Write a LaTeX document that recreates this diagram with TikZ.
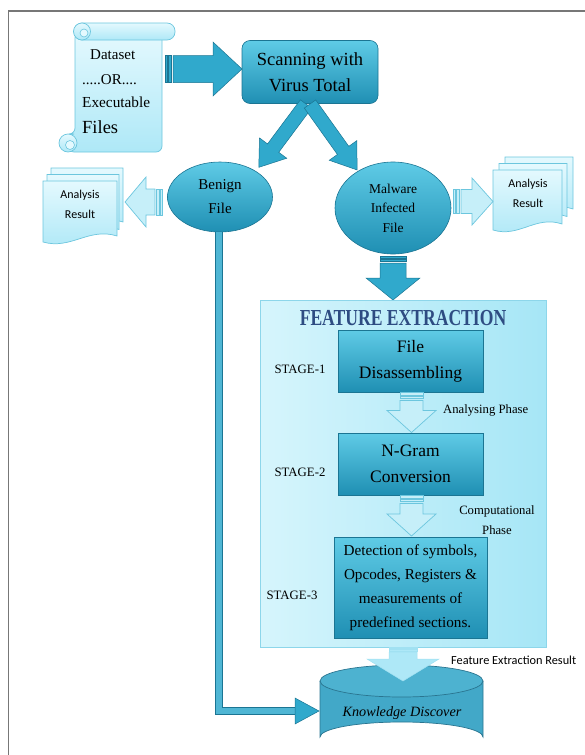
\documentclass[tikz,border=0pt]{standalone}
\usepackage{fontspec}
\setmainfont{Liberation Serif}
\newfontfamily\calib{Carlito}
\usetikzlibrary{shapes.geometric}
\definecolor{tealA}{HTML}{5FCBE6}
\definecolor{tealB}{HTML}{1F8FB3}
\definecolor{tealD}{HTML}{1B7593}
\definecolor{tealM}{HTML}{30A9CC}
\definecolor{paleA}{HTML}{E4F9FE}
\definecolor{paleB}{HTML}{AEE8F7}
\definecolor{paleD}{HTML}{6CC6DE}
\definecolor{panelA}{HTML}{D6F5FC}
\definecolor{panelB}{HTML}{A6E6F6}
\definecolor{panelD}{HTML}{8DD6EA}
\definecolor{navy}{HTML}{2E4C82}
\definecolor{cylBody}{HTML}{42A8C8}
\definecolor{cylTop}{HTML}{4DB2D0}
\definecolor{cylD}{HTML}{2A7590}
\definecolor{framegray}{HTML}{777777}
\newcommand\fsz[1]{\fontsize{#1}{#1}\selectfont}
% block arrow: #1 style, #2 x, #3 y, #4 angle, #5 length, #6 shaft half, #7 head half, #8 head length, #9 body start (stripes before)
\newcommand\blockarr[9]{%
  \begin{scope}[shift={(#2,#3)}, rotate=#4]
    \ifdim #9pt>0pt
      \path[#1] (0,-#6) rectangle ({0.3*#9},#6);
      \path[#1] ({0.45*#9},-#6) rectangle ({0.75*#9},#6);
    \fi
    \path[#1] (#9,-#6) -- ({#5-#8},-#6) -- ({#5-#8},-#7) -- (#5,0)
      -- ({#5-#8},#7) -- ({#5-#8},#6) -- (#9,#6) -- cycle;
  \end{scope}}
% document shape: #1 x, #2 top y, #3 width, #4 height
\newcommand\docshape[4]{%
  \path[docstyle] (#1,#2) -- ({#1+#3},#2) -- ({#1+#3},{#2+#4-6})
    .. controls ({#1+0.62*#3},{#2+#4-15}) and ({#1+0.38*#3},{#2+#4+8}) .. (#1,{#2+#4}) -- cycle;}
\tikzset{
  x=1pt, y=-1pt,
  tealarrow/.style={fill=tealM, draw=tealD, line width=0.5pt},
  palearrow/.style={fill=paleB!70!white, draw=paleD, line width=0.7pt},
  resarrow/.style={fill=paleB, draw=paleB!80!paleD, line width=0.5pt},
  docstyle/.style={top color=paleA, bottom color=paleB, draw=paleD, line width=0.7pt},
  tealbox/.style={top color=tealA, bottom color=tealB, draw=tealD, line width=0.6pt, text=black},
  stagebox/.style={tealbox, rectangle, inner sep=0pt},
  stagelbl/.style={font=\fsz{12.8}},
  reslbl/.style={font=\calib\fsz{12}, align=center},
}
\begin{document}
\begin{tikzpicture}
\useasboundingbox (0,0) rectangle (585,755);
% frame
\draw[framegray, line width=1.6pt] (585,11) -- (8.5,11) -- (8.5,755);

% ---- scroll (dataset) ----
\path[docstyle, rounded corners=6pt] (75,32) -- (162,32) -- (162,152) -- (68,152) -- (68,134) -- (75,134) -- cycle;
\path[docstyle, rounded corners=8pt] (74,23) rectangle (175,40);
\path[docstyle] (82,31.5) circle (8.5);
\path[draw=paleD, fill=paleA, line width=0.6pt] (84,33) circle (4);
\path[docstyle] (68,143) circle (9);
\path[draw=paleD, fill=paleA, line width=0.6pt] (70,145) circle (4.5);
\node[anchor=west, inner sep=0pt, font=\fsz{15}] (ds1) at (90,55) {Dataset};
\node[anchor=west, inner sep=0pt, font=\fsz{15}] (ds2) at (82,80) {.....OR....};
\node[anchor=west, inner sep=0pt, font=\fsz{15.3}] (ds3) at (82,102) {Executable};
\node[anchor=west, inner sep=0pt, font=\fsz{18.5}] (ds4) at (82,127) {Files};

% ---- scanning box ----
\node[tealbox, rounded corners=8pt, minimum width=136pt, minimum height=63pt, inner sep=0pt,
      align=center, font=\fsz{18.5}] (scan) at (310,72) {Scanning with\\[7.5pt]Virus Total};
\blockarr{tealarrow}{165}{69}{0}{77}{13.5}{27}{29}{8}

% diagonal arrows
\blockarr{tealarrow}{306}{104}{-126.7}{79}{7}{17}{24}{0}
\blockarr{tealarrow}{310}{104}{-54.5}{81}{7}{17}{24}{0}

% ---- benign ----
\node[ellipse, top color=tealA, bottom color=tealB, draw=tealD, line width=0.6pt,
      minimum width=105pt, minimum height=70pt, inner sep=0pt, align=center, font=\fsz{15}]
      (benign) at (220,197) {Benign\\[9pt]File};
% ---- malware ----
\node[ellipse, top color=tealA, bottom color=tealB, draw=tealD, line width=0.6pt,
      minimum width=116pt, minimum height=92pt, inner sep=0pt, align=center, font=\fsz{13.5}]
      (malware) at (393,208) {Malware\\[6pt]Infected\\[6pt]File};

% ---- analysis result stacks ----
\docshape{51}{168}{72}{60}
\docshape{47}{174.5}{72}{61}
\docshape{43}{181}{74}{61}
\node[reslbl] (resL) at (80,204.5) {Analysis\\[7.5pt]Result};
\docshape{505}{157}{68}{58}
\docshape{499}{163.5}{68}{59}
\docshape{493}{170}{69}{60}
\node[reslbl] (resR) at (528,193) {Analysis\\[8pt]Result};
\blockarr{palearrow}{162}{202}{180}{37}{13}{25}{21}{7}
\blockarr{palearrow}{453}{201.5}{0}{40}{12}{23.5}{21}{8}

% ---- malware -> feature extraction ----
\blockarr{tealarrow}{393}{256}{-90}{44}{13}{27}{22}{7}

% ---- feature extraction panel ----
\node[draw=panelD, left color=panelA, right color=panelB, line width=0.8pt,
      minimum width=286pt, minimum height=347pt, inner sep=0pt] (fe) at (403,473.5) {};
\node[font=\bfseries\fsz{17.6}, text=navy, yscale=1.3, transform shape, inner sep=0pt] (fetitle) at (403,318) {FEATURE EXTRACTION};

\node[stagebox, minimum width=145pt, minimum height=62pt, align=center, font=\fsz{17.5}] (s1) at (410.5,361) {File\\[8.5pt]Disassembling};
\node[stagebox, minimum width=145pt, minimum height=62pt, align=center, font=\fsz{17.5}] (s2) at (410.5,464) {N-Gram\\[8.5pt]Conversion};
\node[stagebox, minimum width=153pt, minimum height=101pt, align=center, font=\fsz{15.2}] (s3) at (410.5,587.5)
  {Detection of symbols,\\[8.8pt]Opcodes, Registers \&\\[8.8pt]measurements of\\[8.8pt]predefined sections.};

\node[stagelbl] (st1) at (300,369) {STAGE-1};
\node[stagelbl] (st2) at (300,472) {STAGE-2};
\node[stagelbl] (st3) at (292,595) {STAGE-3};

\blockarr{palearrow}{411.5}{392.5}{-90}{40}{11.5}{24.5}{22}{8}
\blockarr{palearrow}{411.5}{495.5}{-90}{40.5}{11.5}{24.5}{22}{8}
\node[anchor=west, inner sep=0pt, font=\fsz{12.7}] (ph1) at (443,410) {Analysing Phase};
\node[align=center, inner sep=0pt, font=\fsz{12.7}] (ph2) at (497,520) {Computational\\[7.3pt]Phase};

% ---- knowledge discover cylinder ----
\path[fill=cylBody, draw=cylD, line width=0.7pt] (320,681) -- (320,737) arc[start angle=180, end angle=360, x radius=81.5, y radius=15] -- (483,681);
\path[fill=cylTop, draw=cylD, line width=0.7pt] (401.5,681) ellipse[x radius=81.5, y radius=16];
\node[font=\itshape\fsz{14.2}] (kd) at (402,713) {Knowledge Discover};
\coordinate (kdw) at (319,711);

% feature extraction result arrow
\blockarr{resarrow}{403}{647}{-90}{34}{14}{36}{22}{5}
\node[anchor=west, inner sep=0pt, font=\calib\fsz{12.3}] (fer) at (451,660) {Feature Extraction Result};

% benign -> knowledge discover
\coordinate (bend) at (219,711);
\coordinate (headbase) at (296,711);
\draw[draw=tealD, line width=1.2pt, double=tealM!85!white, double distance=5.5pt] (benign.south -| bend) -- (bend) -- (headbase);
\path[tealarrow] (295,698) -- (kdw) -- (295,724) -- cycle;
\end{tikzpicture}
\end{document}
